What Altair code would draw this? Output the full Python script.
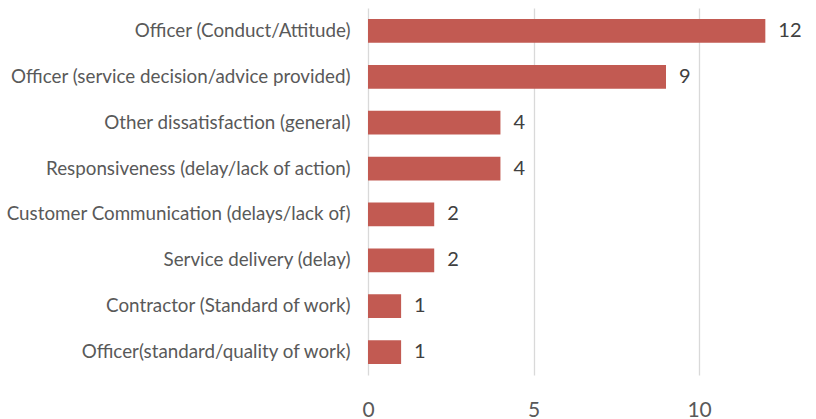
import altair as alt
import pandas as pd

categories = [
    "Officer (Conduct/Attitude)",
    "Officer (service decision/advice provided)",
    "Other dissatisfaction (general)",
    "Responsiveness (delay/lack of action)",
    "Customer Communication (delays/lack of)",
    "Service delivery (delay)",
    "Contractor (Standard of work)",
    "Officer(standard/quality of work)",
]
values = [12, 9, 4, 4, 2, 2, 1, 1]

df = pd.DataFrame({"category": categories, "value": values})

FONT = "Lato"

y_enc = alt.Y(
    "category:N",
    sort=categories,
    title=None,
    scale=alt.Scale(paddingInner=0.48, paddingOuter=0.24),
    axis=alt.Axis(
        domain=False, ticks=False, labelPadding=18, labelFontSize=18.8,
        labelColor="#595959", labelFont=FONT, labelLimit=400,
    ),
)
x_enc = alt.X(
    "value:Q",
    title=None,
    scale=alt.Scale(domain=[0, 13.5], nice=False),
    axis=alt.Axis(
        values=[0, 5, 10], domain=False, ticks=False, grid=True,
        gridColor="#d9d9d9", gridWidth=1.3, labelPadding=24, labelFontSize=21,
        labelColor="#595959", labelFont=FONT, labelFlush=False,
    ),
)

bars = alt.Chart(df).mark_bar(color="#c25a52").encode(x=x_enc, y=y_enc)
labels = alt.Chart(df).mark_text(
    align="left", dx=13, fontSize=20, font=FONT, color="#404040"
).encode(x="value:Q", y=alt.Y("category:N", sort=categories), text="value:Q")

chart = (
    alt.layer(bars, labels)
    .properties(
        width=447, height=367,
        padding={"left": 368, "top": 8, "right": 1, "bottom": 44},
        autosize="none", background="white",
    )
    .configure_view(stroke=None)
)

chart.save("out.html", embed_options={"renderer": "svg", "actions": False})
